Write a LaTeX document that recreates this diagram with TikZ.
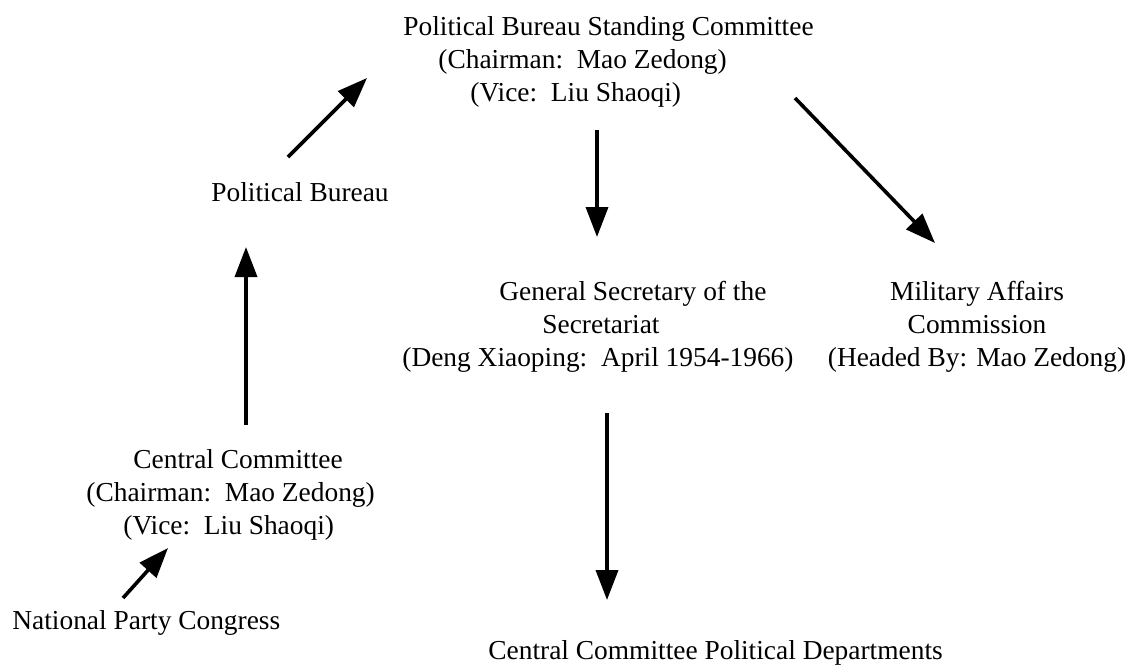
\documentclass[tikz,border=0pt]{standalone}
\usepackage{fontspec}
\setmainfont{Liberation Serif}
\usetikzlibrary{positioning, arrows.meta}

\begin{document}
\begin{tikzpicture}[x=0.5pt, y=-0.5pt, font=\fontsize{13.7}{16.5}\selectfont,
  lbl/.style={inner sep=0pt, align=left, anchor=west},
  link/.style={-{Triangle[length=15pt, width=11pt]}, line width=1.8pt}]
  \useasboundingbox (0,0) rectangle (1127,671);
  \node[lbl] (pbsc) at (403,62) {Political Bureau Standing Committee\\\hspace*{17.5pt}(Chairman:~~Mao Zedong)\\\hspace*{33.5pt}(Vice:~~Liu Shaoqi)};
  \node[inner sep=0pt] (pb) at (300,192) {Political Bureau};
  \node[lbl] (gensec) at (402,327) {\hspace*{48.5pt}General Secretary of the\\\hspace*{70pt}Secretariat\\(Deng Xiaoping:~~April 1954-1966)};
  \node[inner sep=0pt, align=center] (mac) at (977,327) {Military Affairs\\Commission\\(Headed By: Mao Zedong)};
  \node[lbl] (cc) at (86,495) {\hspace*{23.5pt}Central Committee\\(Chairman:~~Mao Zedong)\\\hspace*{18.5pt}(Vice:~~Liu Shaoqi)};
  \node[lbl] (npc) at (12,623) {National Party Congress};
  \node[lbl] (ccpd) at (488,653) {Central Committee Political Departments};
  \draw[link] ([shift={(111,-25)}]npc.west) -- ([shift={(82,53)}]cc.west);
  \draw[link] ([shift={(160,-70)}]cc.west) -- ([shift={(-54,55)}]pb.center);
  \draw[link] ([shift={(-12,-35)}]pb.center) -- ([shift={(-36,16)}]pbsc.west);
  \draw[link] ([shift={(194,68)}]pbsc.west) -- ([shift={(195,-90)}]gensec.west);
  \draw[link] ([shift={(392,36)}]pbsc.west) -- ([shift={(-42,-84)}]mac.center);
  \draw[link] ([shift={(205,86)}]gensec.west) -- ([shift={(119,-53)}]ccpd.west);
\end{tikzpicture}
\end{document}
